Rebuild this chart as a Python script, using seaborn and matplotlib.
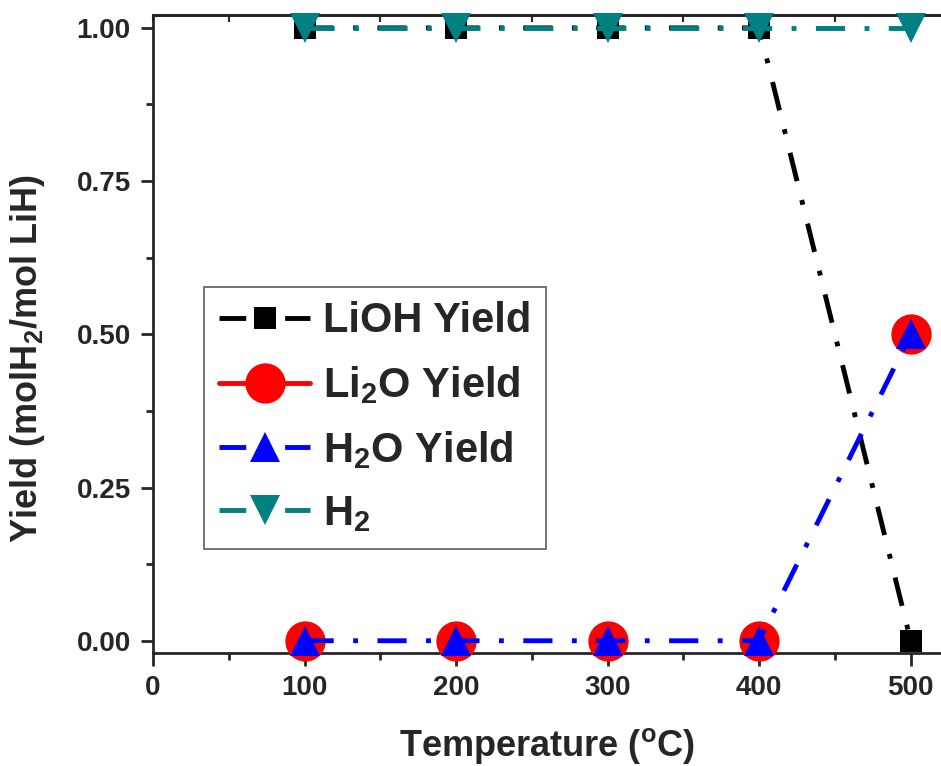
import matplotlib
matplotlib.use("Agg")
import matplotlib.pyplot as plt
import seaborn as sns
import pandas as pd
from matplotlib.lines import Line2D
from matplotlib.ticker import MultipleLocator

temperature = [100, 200, 300, 400, 500]
lioh_yield = [1.0, 1.0, 1.0, 1.0, 0.0]
li2o_yield = [0.0, 0.0, 0.0, 0.0, 0.5]
h2o_yield = [0.0, 0.0, 0.0, 0.0, 0.5]
h2_yield = [1.0, 1.0, 1.0, 1.0, 1.0]
series_names = ["LiOH Yield", "Li$_\\mathbf{2}$O Yield", "H$_\\mathbf{2}$O Yield", "H$_\\mathbf{2}$"]
x_ticks = [0, 100, 200, 300, 400, 500]
y_ticks = [0.00, 0.25, 0.50, 0.75, 1.00]

sns.set_style("ticks")
plt.rcParams["font.family"] = ["Liberation Sans", "DejaVu Sans"]
plt.rcParams["font.weight"] = "bold"
plt.rcParams["mathtext.fontset"] = "custom"
plt.rcParams["mathtext.rm"] = "Liberation Sans:bold"
plt.rcParams["mathtext.bf"] = "Liberation Sans:bold"
plt.rcParams["mathtext.it"] = "Liberation Sans:bold"
plt.rcParams["mathtext.default"] = "bf"

fig = plt.figure(figsize=(9.41, 7.66), dpi=100)
ax = fig.add_axes([153/941, (766-653)/766, (941-153)/941, (653-15)/766])

teal = "#008080"
dd = (0, (6, 4, 1, 4))
# (values, colour, marker, markersize, linestyle in plot)
styles = [
    (lioh_yield, "black", "s", 16, dd),
    (li2o_yield, "red", "o", 29, "none"),
    (h2o_yield, "blue", "^", 21, dd),
    (h2_yield, teal, "v", 21, dd),
]
for i in [0, 1, 2, 3]:
    vals, col, mk, ms, ls = styles[i]
    df = pd.DataFrame({"T": temperature, "Y": vals})
    sns.lineplot(data=df, x="T", y="Y", ax=ax, color=col, marker=mk, markersize=ms,
                 markeredgewidth=0, linewidth=3.5, linestyle=ls, clip_on=False,
                 zorder=3 + i)

ax.set_xlim(0, 520)
ax.set_ylim(-0.02, 1.021)
ax.set_xticks(x_ticks)
ax.set_yticks(y_ticks)
ax.set_yticklabels([f"{v:.2f}" for v in y_ticks])
ax.xaxis.set_minor_locator(MultipleLocator(50))
ax.yaxis.set_minor_locator(MultipleLocator(0.125))
ax.tick_params(axis="both", which="major", length=9, width=2, direction="out",
               labelsize=20, pad=7)
ax.tick_params(axis="both", which="minor", length=5, width=2, direction="out")
ax.tick_params(axis="x", which="both", top=False)
for lab in ax.get_xticklabels() + ax.get_yticklabels():
    lab.set_fontweight("bold")
for s in ["left", "bottom", "top"]:
    ax.spines[s].set_linewidth(2)
ax.spines["right"].set_visible(False)

# top axis: inward ticks, no labels
sec = ax.secondary_xaxis("top")
sec.set_xticks(x_ticks)
sec.xaxis.set_minor_locator(MultipleLocator(50))
sec.tick_params(which="major", direction="in", length=5, width=1.5, labeltop=False)
sec.tick_params(which="minor", direction="in", length=5, width=1.5)
sec.spines["top"].set_linewidth(2)

ax.set_xlabel("Temperature ($^\\mathbf{o}$C)", fontsize=26, fontweight="bold", labelpad=18)
ax.set_ylabel("Yield (molH$_\\mathbf{2}$/mol LiH)", fontsize=26, fontweight="bold")
ax.yaxis.set_label_coords(-0.135, 0.462)

handles = []
for i, (vals, col, mk, ms, ls) in enumerate(styles):
    hls = "-" if i == 1 else (0, (5.5, 8))
    handles.append(Line2D([0], [0], color=col, marker=mk, markersize=ms,
                          markeredgewidth=0, linewidth=3.5, linestyle=hls))
leg = ax.legend(handles, series_names, loc="upper left", bbox_to_anchor=(0.065, 0.574),
                borderaxespad=0, frameon=True, fancybox=False,
                handlelength=2.2, handletextpad=0.3, labelspacing=0.55, borderpad=0.35,
                prop={"weight": "bold", "size": 30})
leg.get_frame().set_edgecolor("#333333")
leg.get_frame().set_linewidth(1.2)
leg.set_zorder(10)

fig.savefig("out.png", dpi=100)
